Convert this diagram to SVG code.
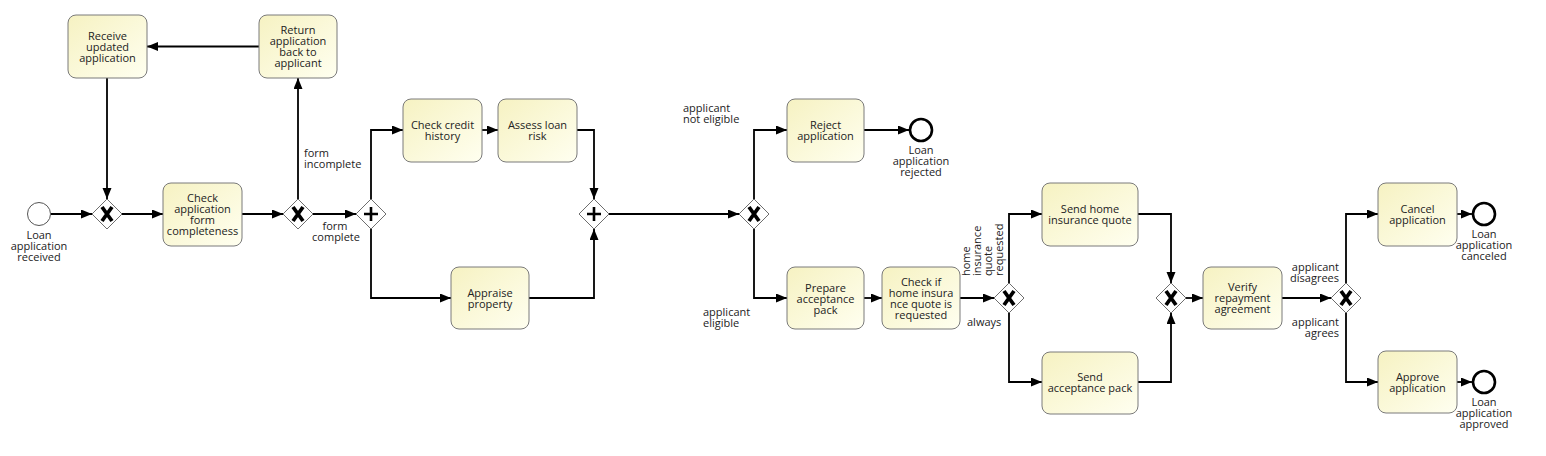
<svg xmlns="http://www.w3.org/2000/svg" width="1546" height="456" viewBox="0 0 1546 456">
<style>
text{font-family:"Open Sans","DejaVu Sans",sans-serif;font-size:11px;fill:#222}
.c{text-anchor:middle}
.e{text-anchor:end}
.task{fill:url(#tg);stroke:#7a7a7a;stroke-width:1}
.gw{fill:#fff;stroke:#6e6e6e;stroke-width:1}
.xm{stroke:#000;stroke-width:3.8;fill:none}
.pm{stroke:#000;stroke-width:2.6;fill:none}
.flow{fill:none;stroke:#000;stroke-width:1.8;marker-end:url(#arr)}
.start{fill:#fff;stroke:#555;stroke-width:1}
.end{fill:#fff;stroke:#000;stroke-width:2.6}
</style>
<defs>
<linearGradient id="tg" x1="0" y1="0" x2="1" y2="1">
<stop offset="0" stop-color="#f6f2c2"/>
<stop offset="1" stop-color="#fffff0"/>
</linearGradient>
<marker id="arr" markerUnits="userSpaceOnUse" markerWidth="12" markerHeight="10" refX="11" refY="4.5" orient="auto">
<path d="M0,0 L11,4.5 L0,9 z" fill="#000"/>
</marker>
</defs>
<rect width="1546" height="456" fill="#fff"/>

<g id="connectors">
<path class="flow" d="M51,214 L92,214"/>
<path class="flow" d="M122,214 L163,214"/>
<path class="flow" d="M242,214 L283,214"/>
<path class="flow" d="M298,199 L298,78"/>
<path class="flow" d="M259,46.5 L147,46.5"/>
<path class="flow" d="M107,78 L107,199"/>
<path class="flow" d="M313,214 L356,214"/>
<path class="flow" d="M371,199 L371,130 L403,130"/>
<path class="flow" d="M371,229 L371,298 L451,298"/>
<path class="flow" d="M482,130 L498,130"/>
<path class="flow" d="M577,130 L594,130 L594,199"/>
<path class="flow" d="M529,298 L594,298 L594,229"/>
<path class="flow" d="M609,214 L739,214"/>
<path class="flow" d="M754,199 L754,130 L787,130"/>
<path class="flow" d="M754,229 L754,298 L787,298"/>
<path class="flow" d="M864,130 L909,130"/>
<path class="flow" d="M864,298 L882,298"/>
<path class="flow" d="M960,298 L994,298"/>
<path class="flow" d="M1009,283 L1009,214 L1042,214"/>
<path class="flow" d="M1009,313 L1009,382 L1042,382"/>
<path class="flow" d="M1138,214 L1171,214 L1171,283"/>
<path class="flow" d="M1138,382 L1171,382 L1171,313"/>
<path class="flow" d="M1186,298 L1203,298"/>
<path class="flow" d="M1282,298 L1331,298"/>
<path class="flow" d="M1346,283 L1346,214 L1378,214"/>
<path class="flow" d="M1346,313 L1346,382 L1378,382"/>
<path class="flow" d="M1457,214 L1472,214"/>
<path class="flow" d="M1457,382 L1472,382"/>
</g>

<g id="labels">
<text x="304" y="157">form</text>
<text x="304" y="168">incomplete</text>
<text class="c" x="335" y="230">form</text>
<text class="c" x="336" y="241">complete</text>
<text x="683" y="112">applicant</text>
<text x="683" y="123">not eligible</text>
<text x="703" y="316">applicant</text>
<text x="703" y="327">eligible</text>
<text transform="translate(970,276) rotate(-90)"><tspan x="0" y="0">home</tspan><tspan x="0" y="11">insurance</tspan><tspan x="0" y="22">quote</tspan><tspan x="0" y="33">requested</tspan></text>
<text x="967" y="326">always</text>
<text class="e" x="1339" y="271">applicant</text>
<text class="e" x="1339" y="282">disagrees</text>
<text class="e" x="1339" y="326">applicant</text>
<text class="e" x="1339" y="337">agrees</text>
</g>

<g id="start">
<circle class="start" cx="39" cy="214" r="11.5"/>
<text class="c" x="39" y="239">Loan</text>
<text class="c" x="39" y="250">application</text>
<text class="c" x="39" y="261">received</text>
</g>

<g id="gw1">
<path class="gw" d="M107,199 L122,214 L107,229 L92,214 z"/>
<path class="xm" d="M102,207 L112,221 M112,207 L102,221"/>
</g>

<g id="receive">
<rect class="task" x="68" y="15" width="79" height="63" rx="8"/>
<text class="c" x="107.5" y="40">Receive</text>
<text class="c" x="107.5" y="51">updated</text>
<text class="c" x="107.5" y="62">application</text>
</g>

<g id="return">
<rect class="task" x="259" y="15" width="78" height="63" rx="8"/>
<text class="c" x="298" y="34">Return</text>
<text class="c" x="298" y="45">application</text>
<text class="c" x="298" y="56">back to</text>
<text class="c" x="298" y="67">applicant</text>
</g>

<g id="checkform">
<rect class="task" x="163" y="183" width="79" height="63" rx="8"/>
<text class="c" x="202.5" y="202">Check</text>
<text class="c" x="202.5" y="213">application</text>
<text class="c" x="202.5" y="224">form</text>
<text class="c" x="202.5" y="235">completeness</text>
</g>

<g id="gw2">
<path class="gw" d="M298,199 L313,214 L298,229 L283,214 z"/>
<path class="xm" d="M293,207 L303,221 M303,207 L293,221"/>
</g>

<g id="fork">
<path class="gw" d="M371,199 L386,214 L371,229 L356,214 z"/>
<path class="pm" d="M371,207 L371,221 M364,214 L378,214"/>
</g>

<g id="credit">
<rect class="task" x="403" y="99" width="79" height="63" rx="8"/>
<text class="c" x="442.5" y="129">Check credit</text>
<text class="c" x="442.5" y="140">history</text>
</g>

<g id="assess">
<rect class="task" x="498" y="99" width="79" height="63" rx="8"/>
<text class="c" x="537.5" y="129">Assess loan</text>
<text class="c" x="537.5" y="140">risk</text>
</g>

<g id="appraise">
<rect class="task" x="451" y="267" width="78" height="62" rx="8"/>
<text class="c" x="490" y="297">Appraise</text>
<text class="c" x="490" y="308">property</text>
</g>

<g id="join">
<path class="gw" d="M594,199 L609,214 L594,229 L579,214 z"/>
<path class="pm" d="M594,207 L594,221 M587,214 L601,214"/>
</g>

<g id="gw3">
<path class="gw" d="M754,199 L769,214 L754,229 L739,214 z"/>
<path class="xm" d="M749,207 L759,221 M759,207 L749,221"/>
</g>

<g id="reject">
<rect class="task" x="787" y="99" width="77" height="63" rx="8"/>
<text class="c" x="825.5" y="129">Reject</text>
<text class="c" x="825.5" y="140">application</text>
</g>

<g id="endrejected">
<circle class="end" cx="921" cy="130" r="11"/>
<text class="c" x="921" y="154">Loan</text>
<text class="c" x="921" y="165">application</text>
<text class="c" x="921" y="176">rejected</text>
</g>

<g id="prepare">
<rect class="task" x="787" y="267" width="77" height="62" rx="8"/>
<text class="c" x="825.5" y="292">Prepare</text>
<text class="c" x="825.5" y="303">acceptance</text>
<text class="c" x="825.5" y="314">pack</text>
</g>

<g id="checkif">
<rect class="task" x="882" y="267" width="78" height="62" rx="8"/>
<text class="c" x="921" y="286">Check if</text>
<text class="c" x="921" y="297">home insura</text>
<text class="c" x="921" y="308">nce quote is</text>
<text class="c" x="921" y="319">requested</text>
</g>

<g id="gw4">
<path class="gw" d="M1009,283 L1024,298 L1009,313 L994,298 z"/>
<path class="xm" d="M1004,291 L1014,305 M1014,291 L1004,305"/>
</g>

<g id="sendquote">
<rect class="task" x="1042" y="183" width="96" height="63" rx="8"/>
<text class="c" x="1090" y="213">Send home</text>
<text class="c" x="1090" y="224">insurance quote</text>
</g>

<g id="sendpack">
<rect class="task" x="1042" y="352" width="96" height="62" rx="8"/>
<text class="c" x="1090" y="381">Send</text>
<text class="c" x="1090" y="392">acceptance pack</text>
</g>

<g id="gw5">
<path class="gw" d="M1171,283 L1186,298 L1171,313 L1156,298 z"/>
<path class="xm" d="M1166,291 L1176,305 M1176,291 L1166,305"/>
</g>

<g id="verify">
<rect class="task" x="1203" y="267" width="79" height="62" rx="8"/>
<text class="c" x="1242.5" y="291">Verify</text>
<text class="c" x="1242.5" y="302">repayment</text>
<text class="c" x="1242.5" y="313">agreement</text>
</g>

<g id="gw6">
<path class="gw" d="M1346,283 L1361,298 L1346,313 L1331,298 z"/>
<path class="xm" d="M1341,291 L1351,305 M1351,291 L1341,305"/>
</g>

<g id="cancel">
<rect class="task" x="1378" y="183" width="79" height="63" rx="8"/>
<text class="c" x="1417.5" y="213">Cancel</text>
<text class="c" x="1417.5" y="224">application</text>
</g>

<g id="endcanceled">
<circle class="end" cx="1484" cy="214" r="11"/>
<text class="c" x="1484" y="238">Loan</text>
<text class="c" x="1484" y="249">application</text>
<text class="c" x="1484" y="260">canceled</text>
</g>

<g id="approve">
<rect class="task" x="1378" y="351" width="79" height="62" rx="8"/>
<text class="c" x="1417.5" y="381">Approve</text>
<text class="c" x="1417.5" y="392">application</text>
</g>

<g id="endapproved">
<circle class="end" cx="1484" cy="382" r="11"/>
<text class="c" x="1484" y="406">Loan</text>
<text class="c" x="1484" y="417">application</text>
<text class="c" x="1484" y="428">approved</text>
</g>
</svg>
